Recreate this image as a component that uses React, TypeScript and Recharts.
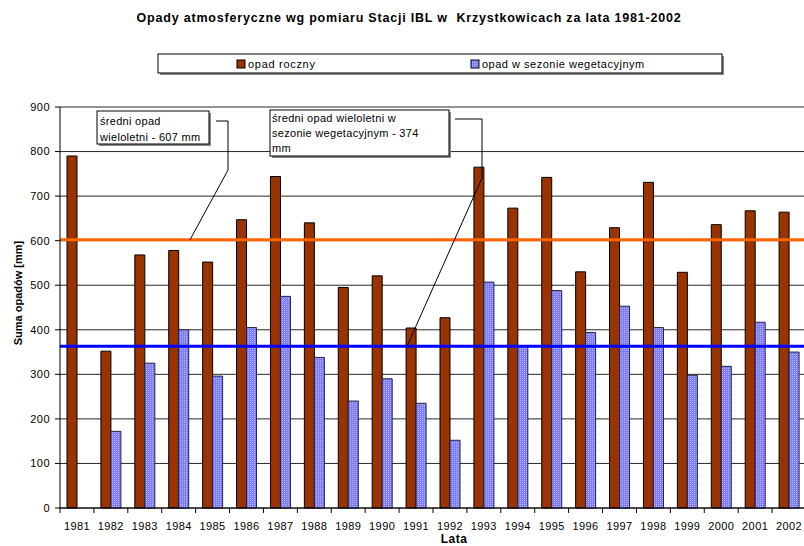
import { BarChart, Bar, XAxis, YAxis, CartesianGrid, ReferenceLine } from "recharts";

const years = ["1981", "1982", "1983", "1984", "1985", "1986", "1987", "1988", "1989", "1990", "1991",
  "1992", "1993", "1994", "1995", "1996", "1997", "1998", "1999", "2000", "2001", "2002"];
const annual = [790, 352, 568, 578, 552, 647, 744, 640, 495, 521, 404,
  427, 765, 673, 742, 530, 629, 731, 529, 636, 667, 664];
const season = [null, 172, 325, 400, 296, 405, 475, 338, 240, 290, 235,
  152, 507, 363, 488, 394, 453, 405, 298, 318, 417, 350];
const yTicks = [0, 100, 200, 300, 400, 500, 600, 700, 800, 900];
const avgAnnual = 602;
const avgSeason = 363;

const data = years.map((y, i) => ({ year: y, annual: annual[i], season: season[i] }));

const FONT = "'Liberation Sans', Arial, sans-serif";
const W = 804;
const H = 546;
const TOP = 107;
const BOTTOM = 508;
const LEFT = 60;
const RIGHT = 806;
const band = (RIGHT - LEFT) / years.length;
const yOf = (v: number) => BOTTOM - (v / 900) * (BOTTOM - TOP);

function YearTick(props: any) {
  const { x, payload } = props;
  const bx = x - band / 2;
  return (
    <g>
      <line x1={bx} x2={bx} y1={BOTTOM} y2={BOTTOM + 5} stroke="#000" />
      {payload.index === years.length - 1 && (
        <line x1={bx + band} x2={bx + band} y1={BOTTOM} y2={BOTTOM + 5} stroke="#000" />
      )}
      <text x={x} y={530} textAnchor="middle" fontSize={11} letterSpacing={0.4} fill="#000" fontFamily={FONT}>
        {payload.value}
      </text>
    </g>
  );
}

export default function App() {
  return (
    <div style={{ position: "absolute", left: 0, top: 0, width: W, height: H, overflow: "hidden", background: "#fff", fontFamily: FONT }}>
      <BarChart width={810} height={H} data={data} margin={{ top: TOP, right: 4, left: 0, bottom: 14 }} barSize={10} barGap={0}>
        <defs>
          <pattern id="dots" width="2" height="2" patternUnits="userSpaceOnUse">
            <rect width="2" height="2" fill="#7d7dff" />
            <rect width="1" height="1" fill="#b4b4ff" />
          </pattern>
        </defs>
        <CartesianGrid vertical={false} stroke="#000" strokeOpacity={0.85} />
        <XAxis dataKey="year" height={24} tickLine={false} axisLine={{ stroke: "#000" }} interval={0} tick={<YearTick />} />
        <YAxis
          domain={[0, 900]}
          ticks={yTicks}
          width={60}
          tickSize={5}
          tickMargin={5}
          axisLine={{ stroke: "#000" }}
          tickLine={{ stroke: "#000" }}
          tick={{ fontSize: 11, fill: "#000", fontFamily: FONT, letterSpacing: 0.5 }}
        />
        <Bar dataKey="annual" fill="#993300" stroke="#000" strokeWidth={1} isAnimationActive={false} />
        <Bar dataKey="season" fill="url(#dots)" stroke="#222244" strokeWidth={1} isAnimationActive={false} />
        <ReferenceLine y={avgAnnual} stroke="#ff6600" strokeWidth={3} />
        <ReferenceLine y={avgSeason} stroke="#0000ff" strokeWidth={3} />
      </BarChart>

      <svg width={W} height={H} style={{ position: "absolute", left: 0, top: 0, pointerEvents: "none" }} fontFamily={FONT}>
        <text x={409} y={22} textAnchor="middle" fontSize={12.5} fontWeight="bold" letterSpacing={0.8} style={{ whiteSpace: "pre" }}>
          {"Opady atmosferyczne wg pomiaru Stacji IBL w  Krzystkowicach za lata 1981-2002"}
        </text>

        <rect x={160} y={56} width={564} height={19} fill="#888" />
        <rect x={158} y={54} width={564} height={19} fill="#fff" stroke="#000" />
        <rect x={237} y={60} width={8} height={8} fill="#993300" stroke="#000" />
        <text x={248} y={68} fontSize={11} letterSpacing={0.7}>opad roczny</text>
        <rect x={471} y={60} width={8} height={8} fill="url(#dots2)" stroke="#000" />
        <text x={482} y={68} fontSize={11} letterSpacing={0.5}>opad w sezonie wegetacyjnym</text>
        <defs>
          <pattern id="dots2" width="2" height="2" patternUnits="userSpaceOnUse">
            <rect width="2" height="2" fill="#7d7dff" />
            <rect width="1" height="1" fill="#b4b4ff" />
          </pattern>
        </defs>

        <rect x={99} y={113} width={112} height={33} fill="#888" />
        <rect x={97} y={111} width={112} height={33} fill="#fff" stroke="#000" />
        <text x={100} y={125} fontSize={11} letterSpacing={0.3}>średni opad</text>
        <text x={100} y={141} fontSize={11} letterSpacing={0.3}>wieloletni - 607 mm</text>
        <polyline points={`216,121 228,121 228,170 190,${yOf(avgAnnual)}`} fill="none" stroke="#000" />

        <rect x={272} y={112} width={179} height={46} fill="#888" />
        <rect x={270} y={110} width={179} height={46} fill="#fff" stroke="#000" />
        <text x={272} y={122} fontSize={11} letterSpacing={0.3}>średni opad wieloletni w</text>
        <text x={272} y={137} fontSize={11} letterSpacing={0.3}>sezonie wegetacyjnym - 374</text>
        <text x={272} y={152} fontSize={11} letterSpacing={0.3}>mm</text>
        <polyline points={`455,119 482,119 482,178 407,${yOf(avgSeason)}`} fill="none" stroke="#000" />

        <text x={18} y={293} textAnchor="middle" fontSize={11} fontWeight="bold" transform="rotate(-90 18 293)" dy={4}>
          Suma opadów [mm]
        </text>
        <text x={454} y={543} textAnchor="middle" fontSize={12} fontWeight="bold" letterSpacing={0.5}>Lata</text>
      </svg>
    </div>
  );
}
